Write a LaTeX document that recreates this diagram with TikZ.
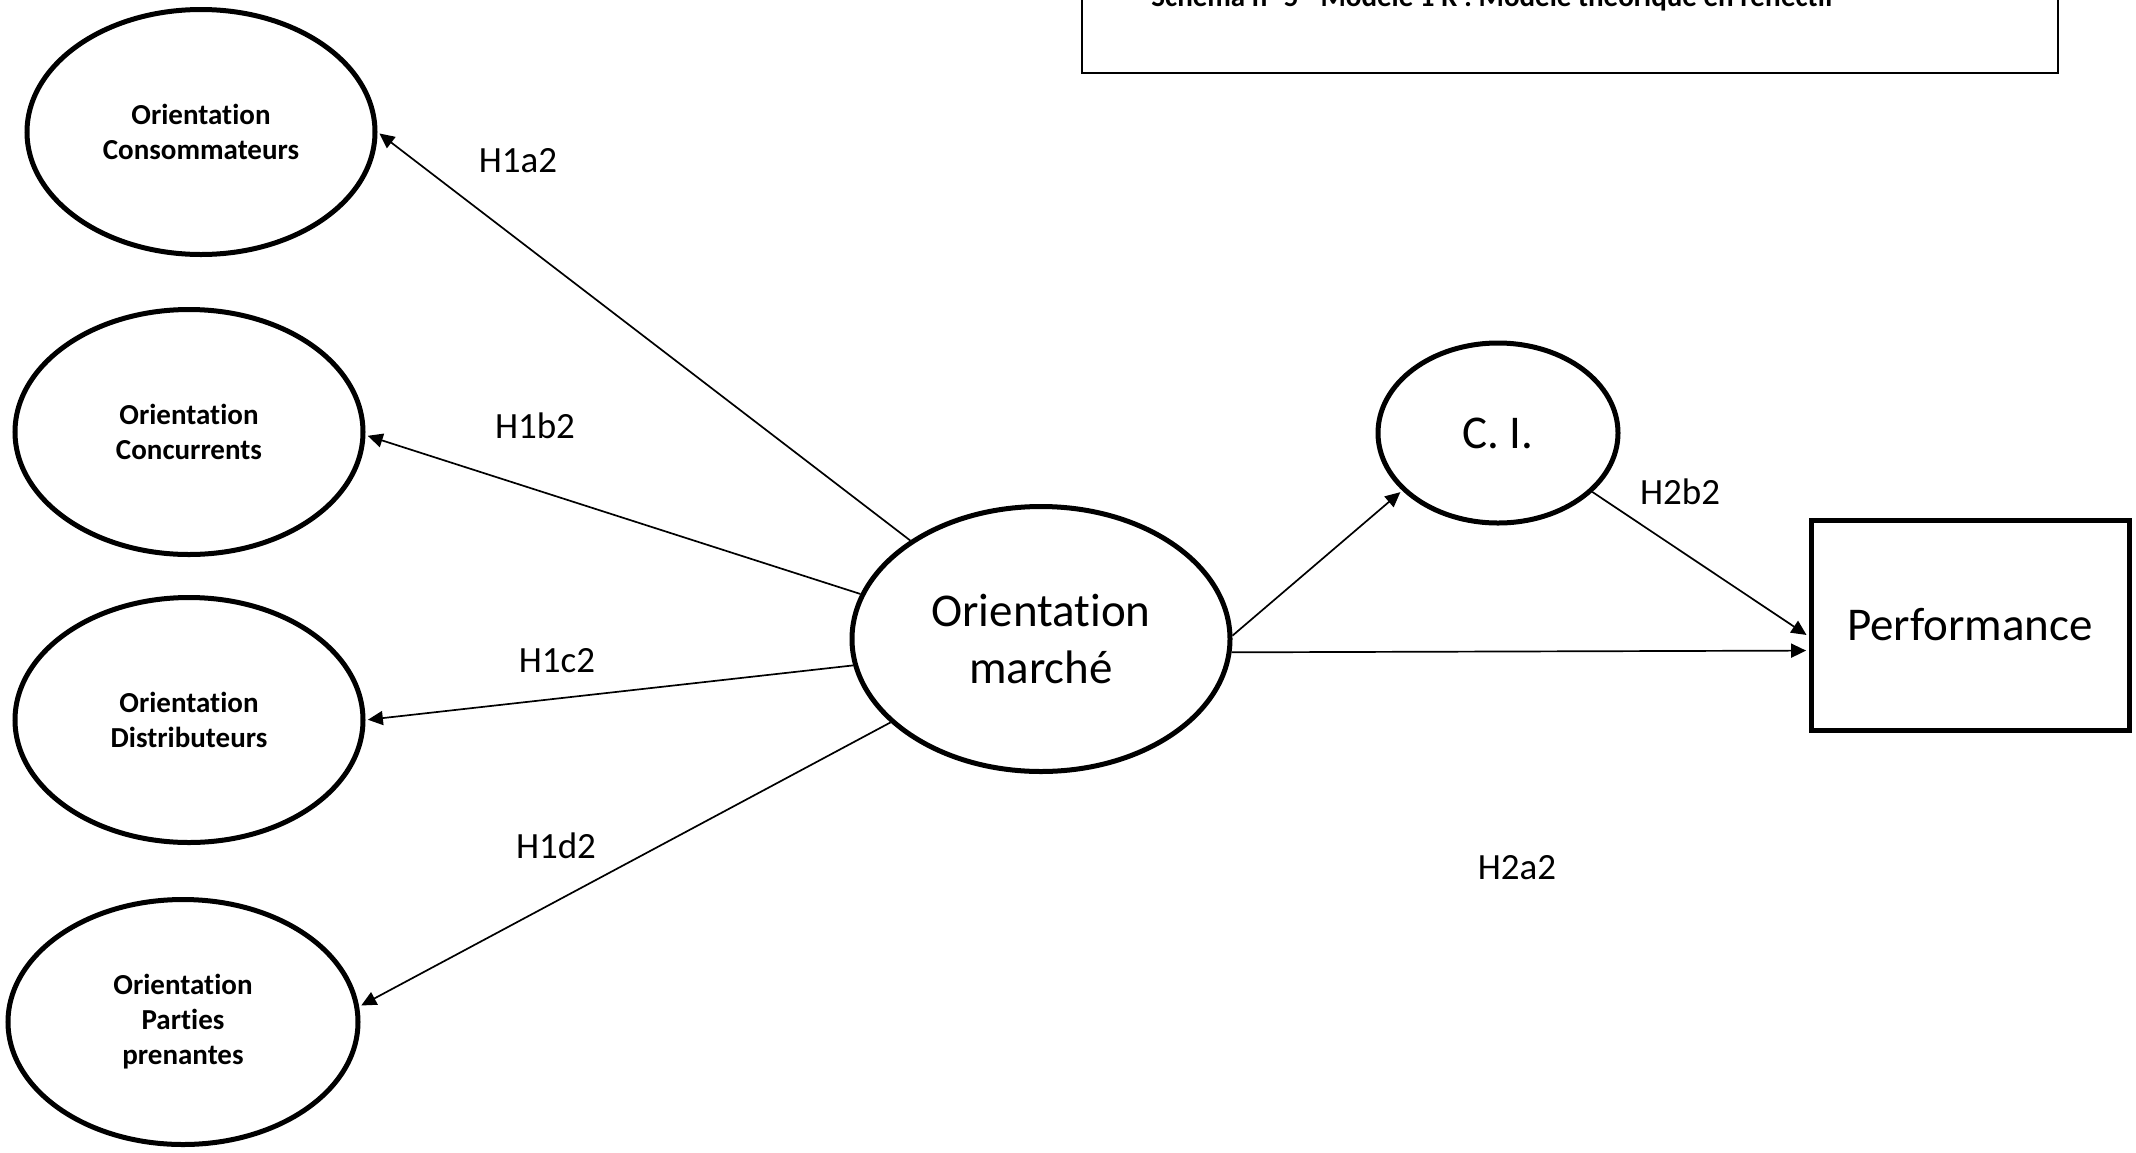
\documentclass[tikz,border=0pt]{standalone}
\usepackage{fontspec}
\setmainfont{Carlito}[RawFeature=-liga,RawFeature=-clig,RawFeature=-rlig,RawFeature=-calt,RawFeature=-dlig]
\usetikzlibrary{arrows.meta,shapes.geometric}

\begin{document}
\begin{tikzpicture}[x=0.5pt,y=0.5pt,yscale=-1,xscale=1,
  dimbox/.style={draw,ellipse,line width=2.5pt,inner sep=0pt,minimum width=174pt,minimum height=122.5pt,align=center,font=\fontsize{14.5}{17.5}\selectfont\bfseries},
  bigtext/.style={font=\fontsize{23.5}{28.5}\selectfont},
  hyp/.style={inner sep=0pt,font=\fontsize{18.5}{22}\selectfont},
  link/.style={line width=0.85pt,shorten >=1.2pt,-{Triangle[length=7.5pt,width=7pt]}}]
%set diagram at the size of the page, cut at its top
\useasboundingbox (0,0) rectangle (2136,1152);
\clip (0,0) rectangle (2136,1152);

% Title box
\node [draw, line width=0.8pt, minimum width=488pt, minimum height=60pt, anchor=south west, inner sep=0pt] (titlebox) at (1081,74) {};
\node [anchor=base west, inner sep=0pt, font=\fontsize{14.5}{17.5}\selectfont\bfseries] (title) at (1151,6) {Schéma n° 5 - Modèle 1 R : Modèle théorique en réflectif};

% Dimensions
\node [dimbox] (ocons) at (201,132) {Orientation\\Consommateurs};
\node [dimbox] (oconc) at (189,432) {Orientation\\Concurrents};
\node [dimbox] (odist) at (189,720) {Orientation\\Distributeurs};
\node [dimbox, minimum width=175pt] (opp) at (183,1022) {Orientation\\Parties\\prenantes};

% Constructs
\node [draw, ellipse, line width=2.5pt, inner sep=0pt, minimum width=189pt, minimum height=132.5pt, align=center, bigtext] (om) at (1041,639) {Orientation\\marché};
\node [draw, ellipse, line width=2.5pt, inner sep=0pt, minimum width=120pt, minimum height=90pt, bigtext] (ci) at (1498,433) {C. I.};
\node [draw, rectangle, line width=2.5pt, minimum width=159pt, minimum height=105pt, bigtext] (perf) at (1970,625) {Performance};

% Links
\draw [link] (om.143) -- (ocons.east);
\draw [link] (om.166) -- (oconc.359);
\draw [link] (om.188) -- (odist.0);
\draw [link] (om.209) -- (opp.5);
\draw [link] (om.1) -- (ci.211);
\draw [link] (om.356) -- (perf.189);
\draw [link] (ci.328) -- (perf.184);

% Hypotheses
\node [hyp] (h1a) at (518,161) {H1a2};
\node [hyp] (h1b) at (535,426) {H1b2};
\node [hyp] (h1c) at (557,661) {H1c2};
\node [hyp] (h1d) at (556,846) {H1d2};
\node [hyp] (h2b) at (1680,492) {H2b2};
\node [hyp] (h2a) at (1517,868) {H2a2};

\end{tikzpicture}
\end{document}
